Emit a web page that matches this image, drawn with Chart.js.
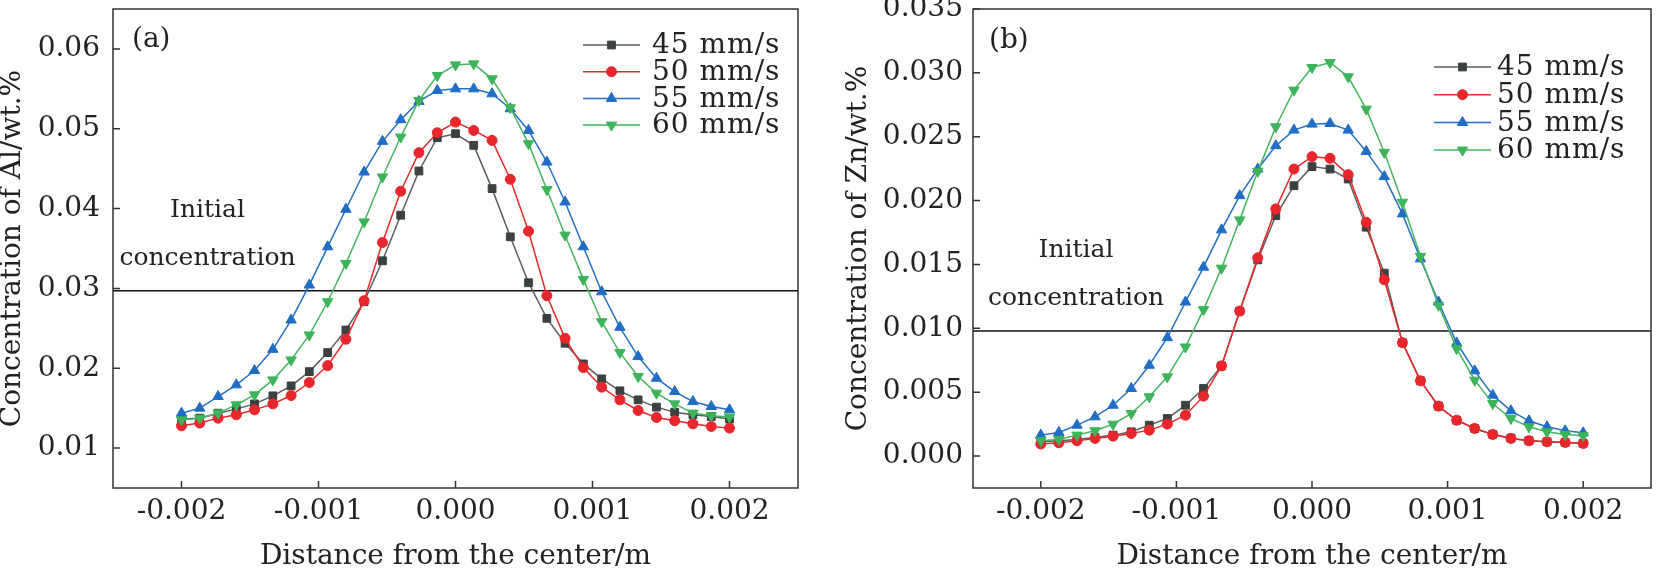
<!DOCTYPE html>
<html>
<head>
<meta charset="utf-8">
<script src="https://cdn.jsdelivr.net/npm/chart.js@4.4.1/dist/chart.umd.min.js"></script>
<style>
  html, body { margin: 0; padding: 0; background: #fff; }
  #wrap { position: relative; width: 1658px; height: 570px; overflow: hidden; }
  .panel { position: absolute; top: 0; height: 570px; }
  #pa { left: 0; width: 830px; }
  #pb { left: 830px; width: 828px; }
</style>
</head>
<body>
<div id="wrap">
  <div class="panel" id="pa"><canvas id="chartA"></canvas></div>
  <div class="panel" id="pb"><canvas id="chartB"></canvas></div>
</div>
<script>
// distance from the weld center (m), 31 sample points
var distance = [-0.002, -0.001867, -0.001733, -0.0016, -0.001467, -0.001333, -0.0012, -0.001067,
  -0.000933, -0.0008, -0.000667, -0.000533, -0.0004, -0.000267, -0.000133, 0,
  0.000133, 0.000267, 0.0004, 0.000533, 0.000667, 0.0008, 0.000933, 0.001067,
  0.0012, 0.001333, 0.001467, 0.0016, 0.001733, 0.001867, 0.002];
var speeds = ['45 mm/s', '50 mm/s', '55 mm/s', '60 mm/s'];

// (a) Al
var al45 = [0.01363, 0.01375, 0.01437, 0.01488, 0.01554, 0.01654, 0.01779, 0.01958, 0.02196, 0.02479, 0.02833,
  0.03346, 0.03917, 0.04471, 0.04888, 0.04938, 0.04792, 0.0425, 0.03646, 0.03071, 0.02625,
  0.02313, 0.02054, 0.01867, 0.01717, 0.01604, 0.01513, 0.0145, 0.01417, 0.01396, 0.01363];
var al50 = [0.01279, 0.01313, 0.01375, 0.01417, 0.01479, 0.01554, 0.01658, 0.01821, 0.02033, 0.02363, 0.02846,
  0.03575, 0.04217, 0.047, 0.0495, 0.05083, 0.04979, 0.04854, 0.04367, 0.03717, 0.02908,
  0.02375, 0.02008, 0.01763, 0.01604, 0.01471, 0.01383, 0.01342, 0.01304, 0.01271, 0.0125];
var al55 = [0.01437, 0.015, 0.01646, 0.01792, 0.01971, 0.02237, 0.02604, 0.03042, 0.03521, 0.03992, 0.04458,
  0.04842, 0.05113, 0.05342, 0.0548, 0.055, 0.055, 0.05438, 0.0525, 0.04979, 0.04583,
  0.04083, 0.03521, 0.02958, 0.02513, 0.02146, 0.01875, 0.01708, 0.01583, 0.01521, 0.01479];
var al60 = [0.01354, 0.01375, 0.01438, 0.01542, 0.01667, 0.01854, 0.02104, 0.02417, 0.02833, 0.03313, 0.03833,
  0.04396, 0.04896, 0.05354, 0.05667, 0.058, 0.05813, 0.05625, 0.05263, 0.04813, 0.04238,
  0.03667, 0.03113, 0.02583, 0.02196, 0.01896, 0.01688, 0.01554, 0.01438, 0.01404, 0.01388];
var alInitial = 0.0297;

// (b) Zn
var zn45 = [0.00112, 0.0012, 0.0013, 0.00146, 0.00164, 0.0019, 0.00242, 0.00294, 0.00398, 0.00529, 0.00706,
  0.01135, 0.01536, 0.01883, 0.02117, 0.02266, 0.02247, 0.02169, 0.01792, 0.01432, 0.00888,
  0.0059, 0.0039, 0.0028, 0.00216, 0.0017, 0.0014, 0.0012, 0.00112, 0.00107, 0.001];
var zn50 = [0.00094, 0.00104, 0.0012, 0.00138, 0.00156, 0.00177, 0.00203, 0.0025, 0.0032, 0.00469, 0.00706,
  0.01135, 0.01552, 0.01935, 0.02247, 0.02344, 0.02331, 0.02203, 0.01831, 0.0138, 0.00888,
  0.00589, 0.00391, 0.00281, 0.00216, 0.00169, 0.00138, 0.0012, 0.00112, 0.00107, 0.00099];
var zn55 = [0.00164, 0.00185, 0.00242, 0.00307, 0.00398, 0.00529, 0.00711, 0.00927, 0.01206, 0.01479, 0.01771,
  0.02039, 0.02247, 0.0243, 0.02552, 0.02599, 0.02604, 0.02552, 0.02385, 0.02188, 0.01896,
  0.01544, 0.01206, 0.00885, 0.00667, 0.00477, 0.00354, 0.00276, 0.00229, 0.00198, 0.00182];
var zn60 = [0.0012, 0.0013, 0.00164, 0.00198, 0.0025, 0.00333, 0.00464, 0.0062, 0.00854, 0.01146, 0.01471,
  0.01849, 0.02229, 0.02578, 0.02865, 0.03042, 0.03081, 0.02969, 0.02716, 0.02378, 0.01987,
  0.01563, 0.0118, 0.00841, 0.00594, 0.00411, 0.00294, 0.00229, 0.0019, 0.00169, 0.00159];
var znInitial = 0.0098;

// axes
var xMin = -0.0025, xMax = 0.0025;
var xTicks = [-0.002, -0.001, 0, 0.001, 0.002];
var alTicks = [0.01, 0.02, 0.03, 0.04, 0.05, 0.06];
var znTicks = [0, 0.005, 0.01, 0.015, 0.02, 0.025, 0.03, 0.035];

var lineColors = ['#5a5e5e', '#e8292c', '#2470c2', '#45b562'];
var markColors = ['#3b4141', '#e8262b', '#1f6dc4', '#3db45a'];
var markStyles = ['rect', 'circle', 'triangle', 'triangle'];
var markRot = [0, 0, 0, 180];
var markSize = [5.5, 5, 6, 6];

var FONT = '"DejaVu Serif", "Liberation Serif", serif';
Chart.defaults.font.family = FONT;
Chart.defaults.color = '#222';

function buildDatasets(series, initial) {
  var sets = series.map(function(vals, i) {
    return {
      label: speeds[i],
      data: distance.map(function(d, k) { return { x: d, y: vals[k] }; }),
      showLine: true,
      borderColor: lineColors[i],
      borderWidth: 1.5,
      backgroundColor: markColors[i],
      pointBackgroundColor: markColors[i],
      pointBorderColor: markColors[i],
      pointBorderWidth: 1,
      pointStyle: markStyles[i],
      pointRotation: markRot[i],
      pointRadius: markSize[i],
      order: 4 - i
    };
  });
  sets.push({
    label: 'Initial concentration',
    data: [{ x: xMin, y: initial }, { x: xMax, y: initial }],
    showLine: true,
    borderColor: '#111',
    borderWidth: 1.5,
    pointRadius: 0,
    order: 10
  });
  return sets;
}

// frame, inward ticks, panel tag, legend and the note text
var decor = {
  id: 'decor',
  afterDraw: function(chart, args, o) {
    var ctx = chart.ctx, a = chart.chartArea;
    var xs = chart.scales.x, ys = chart.scales.y;
    ctx.save();
    ctx.strokeStyle = '#333';
    ctx.lineWidth = 1.5;
    ctx.beginPath();
    xs.ticks.forEach(function(t) {
      var px = xs.getPixelForValue(t.value);
      ctx.moveTo(px, a.bottom); ctx.lineTo(px, a.bottom - 7);
    });
    ys.ticks.forEach(function(t) {
      var py = ys.getPixelForValue(t.value);
      ctx.moveTo(a.left, py); ctx.lineTo(a.left + 7, py);
    });
    ctx.stroke();
    ctx.strokeRect(a.left, a.top, a.right - a.left, a.bottom - a.top);

    // panel tag
    ctx.fillStyle = '#222';
    ctx.font = '28px ' + FONT;
    ctx.textBaseline = 'middle';
    ctx.textAlign = 'left';
    ctx.fillText(o.tag, a.left + o.tagDx, a.top + o.tagDy);

    // note
    ctx.font = '25px ' + FONT;
    ctx.textAlign = 'center';
    ctx.textBaseline = 'alphabetic';
    o.notes.forEach(function(n) {
      ctx.fillText(n.text, xs.getPixelForValue(n.x), ys.getPixelForValue(n.y));
    });

    // legend
    var lg = o.legend;
    ctx.textAlign = 'left';
    ctx.textBaseline = 'middle';
    ctx.font = '28px ' + FONT;
    if ('letterSpacing' in ctx) ctx.letterSpacing = '1px';
    for (var i = 0; i < speeds.length; i++) {
      var ds = chart.data.datasets[i];
      var y = a.top + lg.top + i * lg.gap;
      var x0 = a.right - lg.lineStart, x1 = a.right - lg.lineEnd;
      ctx.strokeStyle = ds.borderColor;
      ctx.lineWidth = 1.5;
      ctx.beginPath(); ctx.moveTo(x0, y); ctx.lineTo(x1, y); ctx.stroke();
      ctx.fillStyle = ds.pointBackgroundColor;
      ctx.strokeStyle = ds.pointBorderColor;
      ctx.lineWidth = 1;
      Chart.helpers.drawPoint(ctx, {
        pointStyle: ds.pointStyle, rotation: ds.pointRotation,
        radius: ds.pointRadius, borderWidth: 1
      }, (x0 + x1) / 2, y);
      ctx.fillStyle = '#222';
      ctx.fillText(ds.label, a.right - lg.text, y + 1);
    }
    if ('letterSpacing' in ctx) ctx.letterSpacing = '0px';
    ctx.restore();
  }
};

function makeChart(id, series, initial, yTicks, yMin, yMax, yDigits, yTitle, cfg) {
  return new Chart(document.getElementById(id), {
    type: 'scatter',
    data: { datasets: buildDatasets(series, initial) },
    options: {
      responsive: true,
      maintainAspectRatio: false,
      animation: false,
      layout: { padding: { top: 9, right: cfg.padRight, left: 0, bottom: 0 } },
      plugins: {
        legend: { display: false },
        tooltip: { enabled: false },
        decor: cfg.decor
      },
      scales: {
        x: {
          type: 'linear',
          min: xMin, max: xMax,
          afterBuildTicks: function(s) { s.ticks = xTicks.map(function(v) { return { value: v }; }); },
          afterFit: function(s) { s.height = 82; s.paddingLeft = 0; s.paddingRight = 0; },
          grid: { display: false, drawTicks: false },
          border: { display: false },
          ticks: {
            autoSkip: false, maxRotation: 0, padding: 7,
            font: { size: 28 }, color: '#222',
            callback: function(v) { return Number(v).toFixed(3); }
          },
          title: {
            display: true, text: 'Distance from the center/m',
            font: { size: 28, lineHeight: 0.9 }, color: '#222',
            padding: { top: 0, bottom: 1 }
          }
        },
        y: {
          type: 'linear',
          min: yMin, max: yMax,
          afterBuildTicks: function(s) { s.ticks = yTicks.map(function(v) { return { value: v }; }); },
          afterFit: function(s) { s.width = cfg.yWidth; s.paddingTop = 0; s.paddingBottom = 0; },
          grid: { display: false, drawTicks: false },
          border: { display: false },
          ticks: {
            autoSkip: false, padding: cfg.yPad,
            font: { size: 28 }, color: '#222',
            callback: function(v) { return Number(v).toFixed(yDigits); }
          },
          title: {
            display: true, text: yTitle,
            font: { size: 28, lineHeight: 0.9 }, color: '#222',
            padding: { top: cfg.yTitlePad, bottom: 0 }
          }
        }
      }
    },
    plugins: [decor]
  });
}

makeChart('chartA', [al45, al50, al55, al60], alInitial, alTicks, 0.005, 0.065, 2,
  'Concentration of Al/wt.%', {
    padRight: 32, yWidth: 113, yPad: 13, yTitlePad: 0,
    decor: {
      tag: '(a)', tagDx: 19, tagDy: 31,
      notes: [{ text: 'Initial', x: -0.00181, y: 0.0390 }, { text: 'concentration', x: -0.00181, y: 0.0329 }],
      legend: { top: 36, gap: 26.7, lineStart: 215, lineEnd: 158, text: 146 }
    }
  });

makeChart('chartB', [zn45, zn50, zn55, zn60], znInitial, znTicks, -0.0025, 0.035, 3,
  'Concentration of Zn/wt.%', {
    padRight: 1, yWidth: 143, yPad: 10, yTitlePad: 16,
    decor: {
      tag: '(b)', tagDx: 16, tagDy: 32,
      notes: [{ text: 'Initial', x: -0.00174, y: 0.0156 }, { text: 'concentration', x: -0.00174, y: 0.01185 }],
      legend: { top: 58, gap: 27.7, lineStart: 217, lineEnd: 160, text: 154 }
    }
  });
</script>
</body>
</html>
